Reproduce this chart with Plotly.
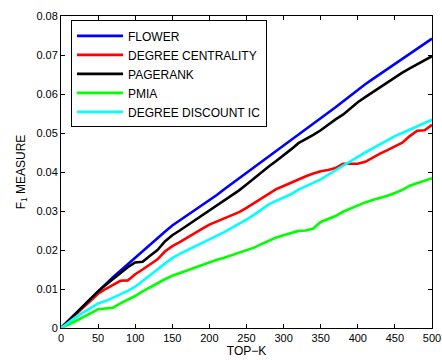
import plotly.graph_objects as go

# Top-K seed set sizes
top_k = list(range(0, 501, 10))

# F1 measure per method
flower = [0.0000, 0.0018, 0.0037, 0.0056, 0.0075, 0.0094, 0.0113, 0.0130, 0.0147, 0.0164,
          0.0181, 0.0197, 0.0214, 0.0230, 0.0247, 0.0263, 0.0276, 0.0290, 0.0302, 0.0315,
          0.0327, 0.0341, 0.0356, 0.0370, 0.0383, 0.0397, 0.0411, 0.0425, 0.0439, 0.0452,
          0.0466, 0.0480, 0.0495, 0.0509, 0.0523, 0.0537, 0.0552, 0.0566, 0.0581, 0.0596,
          0.0611, 0.0625, 0.0638, 0.0651, 0.0664, 0.0677, 0.0690, 0.0703, 0.0716, 0.0729,
          0.0742]
degree_centrality = [0.0000, 0.0018, 0.0036, 0.0054, 0.0071, 0.0088, 0.0100, 0.0110, 0.0121, 0.0122,
                     0.0138, 0.0150, 0.0162, 0.0176, 0.0196, 0.0210, 0.0220, 0.0232, 0.0243, 0.0254,
                     0.0265, 0.0273, 0.0281, 0.0290, 0.0297, 0.0308, 0.0320, 0.0333, 0.0346, 0.0356,
                     0.0364, 0.0373, 0.0382, 0.0389, 0.0396, 0.0402, 0.0405, 0.0410, 0.0421, 0.0421,
                     0.0421, 0.0426, 0.0437, 0.0447, 0.0456, 0.0465, 0.0475, 0.0492, 0.0506, 0.0507,
                     0.0521]
pagerank = [0.0000, 0.0019, 0.0038, 0.0057, 0.0076, 0.0094, 0.0110, 0.0125, 0.0140, 0.0156,
            0.0168, 0.0170, 0.0185, 0.0200, 0.0222, 0.0238, 0.0250, 0.0263, 0.0276, 0.0288,
            0.0300, 0.0313, 0.0326, 0.0339, 0.0353, 0.0368, 0.0384, 0.0400, 0.0414, 0.0428,
            0.0442, 0.0458, 0.0474, 0.0484, 0.0495, 0.0507, 0.0522, 0.0535, 0.0547, 0.0563,
            0.0579, 0.0592, 0.0605, 0.0617, 0.0630, 0.0643, 0.0655, 0.0666, 0.0677, 0.0687,
            0.0697]
pmia = [0.0000, 0.0008, 0.0018, 0.0028, 0.0038, 0.0048, 0.0050, 0.0052, 0.0063, 0.0072,
        0.0082, 0.0094, 0.0105, 0.0115, 0.0125, 0.0134, 0.0141, 0.0148, 0.0155, 0.0162,
        0.0169, 0.0175, 0.0180, 0.0186, 0.0192, 0.0198, 0.0206, 0.0215, 0.0224, 0.0232,
        0.0238, 0.0244, 0.0249, 0.0250, 0.0255, 0.0272, 0.0279, 0.0287, 0.0298, 0.0306,
        0.0316, 0.0322, 0.0328, 0.0333, 0.0339, 0.0346, 0.0354, 0.0365, 0.0371, 0.0378,
        0.0384]
degree_discount_ic = [0.0000, 0.0015, 0.0028, 0.0040, 0.0052, 0.0063, 0.0069, 0.0077, 0.0086, 0.0095,
                      0.0106, 0.0120, 0.0135, 0.0150, 0.0165, 0.0179, 0.0190, 0.0199, 0.0208, 0.0217,
                      0.0226, 0.0236, 0.0246, 0.0257, 0.0267, 0.0278, 0.0290, 0.0303, 0.0317, 0.0326,
                      0.0334, 0.0343, 0.0355, 0.0364, 0.0372, 0.0381, 0.0393, 0.0405, 0.0416, 0.0427,
                      0.0439, 0.0450, 0.0461, 0.0472, 0.0482, 0.0492, 0.0500, 0.0509, 0.0517, 0.0525,
                      0.0534]

series_names = ["FLOWER", "DEGREE CENTRALITY", "PAGERANK", "PMIA", "DEGREE DISCOUNT IC"]
series_values = [flower, degree_centrality, pagerank, pmia, degree_discount_ic]
series_colors = ["#0000ff", "#ff0000", "#000000", "#00ff00", "#00ffff"]

x_ticks = list(range(0, 501, 50))
y_ticks = [0, 0.01, 0.02, 0.03, 0.04, 0.05, 0.06, 0.07, 0.08]
y_tick_labels = ["0", "0.01", "0.02", "0.03", "0.04", "0.05", "0.06", "0.07", "0.08"]

FONT = "Liberation Sans, Arial, sans-serif"

fig = go.Figure()
for name, vals, color in zip(series_names, series_values, series_colors):
    fig.add_trace(go.Scatter(x=top_k, y=vals, mode="lines", name=name,
                             line=dict(color=color, width=2.6)))

axis_common = dict(showline=True, linecolor="black", linewidth=1, mirror="ticks",
                   ticks="inside", ticklen=4, tickcolor="black", tickwidth=1,
                   showgrid=False, zeroline=False, automargin=False,
                   tickfont=dict(family=FONT, size=11, color="black"))

fig.update_layout(
    width=442, height=360,
    margin=dict(l=61, r=10, t=16, b=32),
    paper_bgcolor="white", plot_bgcolor="white",
    font=dict(family=FONT, size=11, color="black"),
    xaxis=dict(range=[0, 500], tickvals=x_ticks,
               title=dict(text="TOP\u2212K", font=dict(family=FONT, size=12), standoff=2),
               **axis_common),
    yaxis=dict(range=[0, 0.08], tickvals=y_ticks, ticktext=y_tick_labels,
               title=dict(text="F<sub>1</sub> MEASURE", font=dict(family=FONT, size=12), standoff=8),
               **axis_common),
    legend=dict(x=0.027, y=0.986, xanchor="left", yanchor="top",
                bordercolor="black", borderwidth=1, bgcolor="white",
                font=dict(family=FONT, size=12, color="black"),
                tracegroupgap=0, itemwidth=46),
    showlegend=True,
)

fig.write_html("out.html")
